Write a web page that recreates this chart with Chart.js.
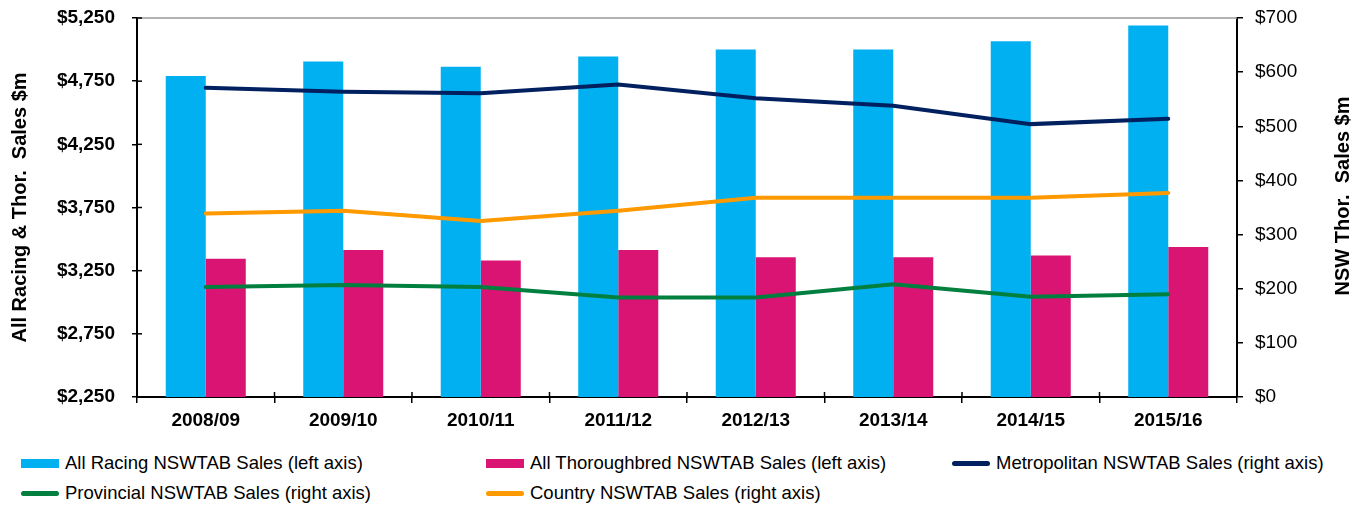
<!DOCTYPE html>
<html>
<head>
<meta charset="utf-8">
<script src="https://cdn.jsdelivr.net/npm/chart.js@4.4.1/dist/chart.umd.min.js"></script>
<style>
body{margin:0;background:#fff;font-family:"Liberation Sans",Arial,sans-serif;}
#wrap{position:relative;width:1368px;height:507px;overflow:hidden;}
#legend .item{position:absolute;display:flex;align-items:center;font-size:18.5px;color:#000;white-space:nowrap;transform:translateY(-50%);}
#legend .sw{display:inline-block;width:38px;margin-right:6px;}
</style>
</head>
<body>
<div id="wrap">
  <canvas id="myChart" width="1368" height="440"></canvas>
  <div id="legend"></div>
</div>
<script>
const ctx = document.getElementById('myChart');

const seasons = ['2008/09','2009/10','2010/11','2011/12','2012/13','2013/14','2014/15','2015/16']
const allRacing = [4790, 4905, 4865, 4945, 5000, 5000, 5065, 5190]
const allThoroughbred = [3345, 3413, 3330, 3413, 3357, 3357, 3370, 3437]
const metropolitan = [571, 564, 561, 577, 552, 538, 504, 514]
const provincial = [203, 207, 203, 184, 184, 208, 185, 190]
const country = [339, 344, 325, 344, 368, 368, 368, 377]

const leftTicks = {min: 2250, max: 5250, step: 500}
const rightTicks = {min: 0, max: 700, step: 100}

Chart.defaults.font.family = '"Liberation Sans", Arial, sans-serif'
Chart.defaults.color = '#000'

// top border + inner tick marks + right title (reads bottom to top)
const frame = {
  id: 'frame',
  afterDatasetsDraw(chart) {
    const c = chart.ctx
    const a = chart.chartArea
    c.save()
    c.strokeStyle = '#9a9a9a'
    c.lineWidth = 1.5
    c.beginPath()
    c.moveTo(a.left, a.top)
    c.lineTo(a.right, a.top)
    c.stroke()

    c.strokeStyle = '#000'
    c.lineWidth = 1.5
    const y = chart.scales.y
    y.ticks.forEach((t, i) => {
      const py = y.getPixelForTick(i)
      c.beginPath(); c.moveTo(a.left, py); c.lineTo(a.left + 5, py); c.stroke()
    })
    const x = chart.scales.x
    for (let i = 1; i < x.ticks.length; i++) {
      const px = x.getPixelForValue(i) - (x.getPixelForValue(1) - x.getPixelForValue(0)) / 2
      c.beginPath(); c.moveTo(px, a.bottom); c.lineTo(px, a.bottom - 5); c.stroke()
    }

    c.fillStyle = '#000'
    c.font = 'bold 20px "Liberation Sans", Arial, sans-serif'
    c.textAlign = 'center'
    c.textBaseline = 'middle'
    c.translate(1343, 196)
    c.rotate(-Math.PI / 2)
    c.fillText('NSW Thor.  Sales $m', 0, 0)
    c.restore()
  }
}

const noPad = s => { s.paddingTop = 0; s.paddingBottom = 0; s.paddingLeft = 0; s.paddingRight = 0 }

let chart_1 = new Chart(ctx, {
  type: 'bar',
  data: {
    labels: seasons,
    datasets: [{
      label: 'All Racing NSWTAB Sales (left axis)',
      data: allRacing,
      backgroundColor: '#00b0f0',
      yAxisID: 'y',
      order: 2
    }, {
      label: 'All Thoroughbred NSWTAB Sales (left axis)',
      data: allThoroughbred,
      backgroundColor: '#d91473',
      yAxisID: 'y',
      order: 2
    }, {
      type: 'line',
      label: 'Metropolitan NSWTAB Sales (right axis)',
      data: metropolitan,
      borderColor: '#002060',
      backgroundColor: '#002060',
      borderWidth: 4,
      pointRadius: 0,
      borderCapStyle: 'round',
      yAxisID: 'y1',
      order: 1
    }, {
      type: 'line',
      label: 'Provincial NSWTAB Sales (right axis)',
      data: provincial,
      borderColor: '#007f3f',
      backgroundColor: '#007f3f',
      borderWidth: 4,
      pointRadius: 0,
      borderCapStyle: 'round',
      yAxisID: 'y1',
      order: 1
    }, {
      type: 'line',
      label: 'Country NSWTAB Sales (right axis)',
      data: country,
      borderColor: '#ff9900',
      backgroundColor: '#ff9900',
      borderWidth: 4,
      pointRadius: 0,
      borderCapStyle: 'round',
      yAxisID: 'y1',
      order: 1
    }]
  },
  options: {
    responsive: false,
    animation: false,
    categoryPercentage: 0.582,
    barPercentage: 1,
    layout: {padding: {top: 18, left: 0, right: 0, bottom: 0}},
    plugins: {legend: {display: false}, tooltip: {enabled: false}},
    scales: {
      x: {
        afterFit: s => { s.height = 43; noPad(s) },
        grid: {offset: true, drawOnChartArea: false, tickLength: 6, color: '#000', lineWidth: 1.5},
        border: {color: '#000', width: 2},
        ticks: {font: {size: 19, weight: 'bold'}, padding: 6, maxRotation: 0}
      },
      y: {
        position: 'left',
        min: leftTicks.min,
        max: leftTicks.max,
        afterFit: s => { s.width = 137; noPad(s) },
        afterBuildTicks: s => {
          s.ticks = []
          for (let v = leftTicks.min; v <= leftTicks.max; v += leftTicks.step) s.ticks.push({value: v})
        },
        grid: {drawOnChartArea: false, tickLength: 5, color: '#000', lineWidth: 1.5},
        border: {color: '#000', width: 2},
        ticks: {
          font: {size: 19, weight: 'bold'},
          padding: 17,
          callback: v => '$' + v.toLocaleString('en-US')
        },
        title: {
          display: true,
          text: 'All Racing & Thor.  Sales $m',
          font: {size: 20, weight: 'bold'},
          padding: {top: 8, bottom: 0}
        }
      },
      y1: {
        position: 'right',
        min: rightTicks.min,
        max: rightTicks.max,
        afterFit: s => { s.width = 131; noPad(s) },
        afterBuildTicks: s => {
          s.ticks = []
          for (let v = rightTicks.min; v <= rightTicks.max; v += rightTicks.step) s.ticks.push({value: v})
        },
        grid: {drawOnChartArea: false, tickLength: 6, color: '#000', lineWidth: 1.5},
        border: {color: '#000', width: 2},
        ticks: {
          font: {size: 19},
          padding: 12,
          callback: v => '$' + v
        }
      }
    }
  },
  plugins: [frame]
});

// legend laid out in three columns like the original
const legendCols = [21, 486, 952]
const legendRows = [463, 493]
const legendBox = document.getElementById('legend')
chart_1.data.datasets.forEach((ds, i) => {
  const item = document.createElement('div')
  item.className = 'item'
  item.style.left = legendCols[i % 3] + 'px'
  item.style.top = legendRows[Math.floor(i / 3)] + 'px'
  const sw = document.createElement('span')
  sw.className = 'sw'
  if (ds.type === 'line') {
    sw.style.height = '5px'
    sw.style.borderRadius = '3px'
  } else {
    sw.style.height = '9px'
  }
  sw.style.background = ds.type === 'line' ? ds.borderColor : ds.backgroundColor
  item.appendChild(sw)
  item.appendChild(document.createTextNode(ds.label))
  legendBox.appendChild(item)
})
</script>
</body>
</html>
